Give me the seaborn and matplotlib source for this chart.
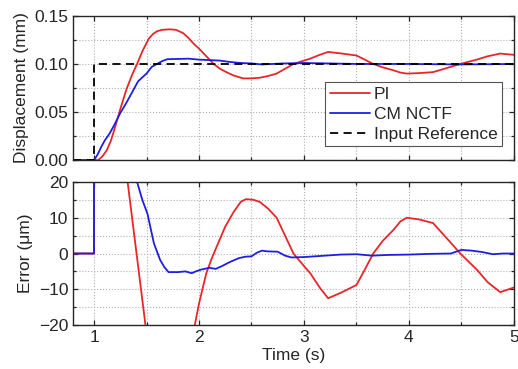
import numpy as np
import pandas as pd
import matplotlib
matplotlib.use('Agg')
import matplotlib.pyplot as plt
from matplotlib.ticker import MultipleLocator
import seaborn as sns

# valeurs
pi_disp_t = [0.8, 1.04, 1.08, 1.12, 1.16, 1.2, 1.25, 1.31, 1.36, 1.41, 1.46, 1.52, 1.56, 1.6, 1.65,
             1.72, 1.78, 1.85, 1.9, 1.95, 2.0, 2.07, 2.14, 2.2, 2.27, 2.33, 2.42, 2.5, 2.58, 2.66,
             2.74, 2.82, 2.9, 3.0, 3.06, 3.15, 3.23, 3.35, 3.5, 3.58, 3.66, 3.75, 3.85, 3.92, 3.98,
             4.1, 4.23, 4.35, 4.49, 4.65, 4.75, 4.87, 4.95, 5.0]
pi_disp = [0, 0, 0.004, 0.01, 0.02, 0.034, 0.053, 0.074, 0.088, 0.1, 0.113, 0.126, 0.131, 0.134, 0.1355,
           0.136, 0.1355, 0.132, 0.127, 0.121, 0.116, 0.108, 0.1, 0.095, 0.091, 0.088, 0.085, 0.085, 0.0857, 0.0875,
           0.09, 0.095, 0.1, 0.1035, 0.1055, 0.1095, 0.1125, 0.111, 0.1088, 0.1045, 0.1, 0.0965, 0.0935, 0.091, 0.09,
           0.0905, 0.0915, 0.0954, 0.1, 0.1046, 0.108, 0.1108, 0.11, 0.1095]

cm_disp_t = [0.8, 1.0, 1.03, 1.07, 1.1, 1.15, 1.2, 1.25, 1.3, 1.35, 1.42, 1.5, 1.55, 1.6, 1.65, 1.7,
             1.8, 1.9, 2.0, 2.1, 2.2, 2.3, 2.4, 2.5, 2.6, 2.8, 3.0, 3.5, 4.0, 4.5, 5.0]
cm_disp = [0, 0, 0.005, 0.014, 0.02, 0.028, 0.038, 0.049, 0.058, 0.068, 0.082, 0.09, 0.097, 0.1, 0.103, 0.105,
           0.1052, 0.1055, 0.1045, 0.104, 0.1035, 0.102, 0.101, 0.1005, 0.0995, 0.1005, 0.101, 0.1, 0.1, 0.0995, 0.1]

ref_t = [0.8, 1.0, 1.0, 5.0]
ref_disp = [0, 0, 0.1, 0.1]

pi_err_t = [0.8, 1.0, 1.0, 1.06, 1.1, 1.2, 1.25, 1.32, 1.405, 1.49, 1.6, 1.7, 1.8, 1.9, 1.96, 2.0, 2.07,
            2.12, 2.17, 2.25, 2.33, 2.4, 2.45, 2.52, 2.58, 2.66, 2.74, 2.82, 2.9, 3.0, 3.06, 3.15, 3.23,
            3.35, 3.5, 3.58, 3.66, 3.75, 3.85, 3.92, 3.98, 4.1, 4.23, 4.35, 4.49, 4.65, 4.75, 4.87, 4.95, 5.0]
pi_err = [0, 0, 100, 97, 85, 50, 32, 20, 0, -20, -35, -36, -33, -25, -20, -14, -5.5,
          -1.5, 2, 7.5, 11.6, 14.5, 15.2, 15, 14.4, 12.5, 10, 5, 0, -3.5, -5.5, -9.5, -12.5,
          -11, -8.8, -4.5, 0, 3.5, 6.5, 9, 10, 9.5, 8.5, 4.6, 0, -4.6, -8, -10.8, -10, -9.5]

cm_err_t = [0.8, 1.0, 1.0, 1.05, 1.1, 1.2, 1.28, 1.35, 1.41, 1.46, 1.51, 1.57, 1.63, 1.67, 1.71, 1.8,
            1.87, 1.93, 1.97, 2.02, 2.1, 2.16, 2.22, 2.3, 2.38, 2.44, 2.5, 2.55, 2.6, 2.65, 2.75, 2.82,
            2.88, 3.0, 3.2, 3.35, 3.5, 3.65, 3.8, 4.0, 4.2, 4.4, 4.5, 4.6, 4.7, 4.8, 4.9, 5.0]
cm_err = [0, 0, 100, 85, 70, 50, 32, 25, 20, 15, 11, 2.9, -1.8, -3.8, -5.2, -5.2,
          -5, -5.5, -5, -4.5, -4, -4.3, -3.5, -2.3, -1.3, -0.9, -0.8, 0.2, 0.8, 0.6, 0.5, -0.6,
          -1.1, -1.0, -0.6, -0.3, -0.2, -0.6, -0.4, -0.3, -0.1, 0, 1, 0.8, 0.4, -0.2, 0, 0]

sns.set_style('ticks')
plt.rcParams['font.family'] = ['Liberation Sans', 'DejaVu Sans']
plt.rcParams['font.size'] = 12

fig = plt.figure(figsize=(5.18, 3.69), dpi=100)
ax1 = fig.add_axes([0.141, 0.566, 0.851, 0.391])
ax2 = fig.add_axes([0.141, 0.119, 0.851, 0.388])

sns.lineplot(x=pi_disp_t, y=pi_disp, ax=ax1, color='#e8262a', lw=1.3, sort=False, estimator=None, label='PI')
sns.lineplot(x=cm_disp_t, y=cm_disp, ax=ax1, color='#1f1fe0', lw=1.3, sort=False, estimator=None, label='CM NCTF')
sns.lineplot(x=ref_t, y=ref_disp, ax=ax1, color='black', lw=1.3, sort=False, estimator=None,
             label='Input Reference', linestyle=(0, (4.5, 3)))

sns.lineplot(x=pi_err_t, y=pi_err, ax=ax2, color='#e8262a', lw=1.3, sort=False, estimator=None, legend=False)
sns.lineplot(x=cm_err_t, y=cm_err, ax=ax2, color='#1f1fe0', lw=1.3, sort=False, estimator=None, legend=False)

ax1.set_ylim(0, 0.15)
ax1.set_yticks([0, 0.05, 0.10, 0.15])
ax1.set_yticklabels(['0.00', '0.05', '0.10', '0.15'])
ax1.yaxis.set_minor_locator(MultipleLocator(0.025))
ax1.set_ylabel('Displacement (mm)', fontsize=12.5, labelpad=4)

ax2.set_ylim(-20, 20)
ax2.set_yticks([-20, -10, 0, 10, 20])
ax2.yaxis.set_minor_locator(MultipleLocator(5))
ax2.set_ylabel('Error (μm)', fontsize=12.5, labelpad=4)
ax2.set_xlabel('Time (s)', fontsize=12.5, labelpad=2)

for ax in (ax1, ax2):
    ax.set_xlim(0.8, 5.0)
    ax.set_xticks([1, 2, 3, 4, 5])
    ax.xaxis.set_minor_locator(MultipleLocator(0.5))
    ax.grid(True, which='both', color='#b0b0b0', linestyle=':', linewidth=0.8)
    ax.tick_params(which='both', direction='in', top=True, right=True, labelsize=12.5)
    ax.tick_params(which='major', length=3.5, width=0.9)
    ax.tick_params(which='minor', length=2.5, width=0.9)
    for s in ax.spines.values():
        s.set_linewidth(1.0)

ax1.tick_params(labelbottom=False)

leg = ax1.legend(loc='lower right', bbox_to_anchor=(0.973, 0.097), fontsize=12.5, frameon=True,
                 fancybox=False, edgecolor='#555555', framealpha=1, handlelength=2.3,
                 borderpad=0.25, labelspacing=0.28, handletextpad=0.25, borderaxespad=0)
leg.get_frame().set_linewidth(0.8)

fig.savefig('out.png', dpi=100)
